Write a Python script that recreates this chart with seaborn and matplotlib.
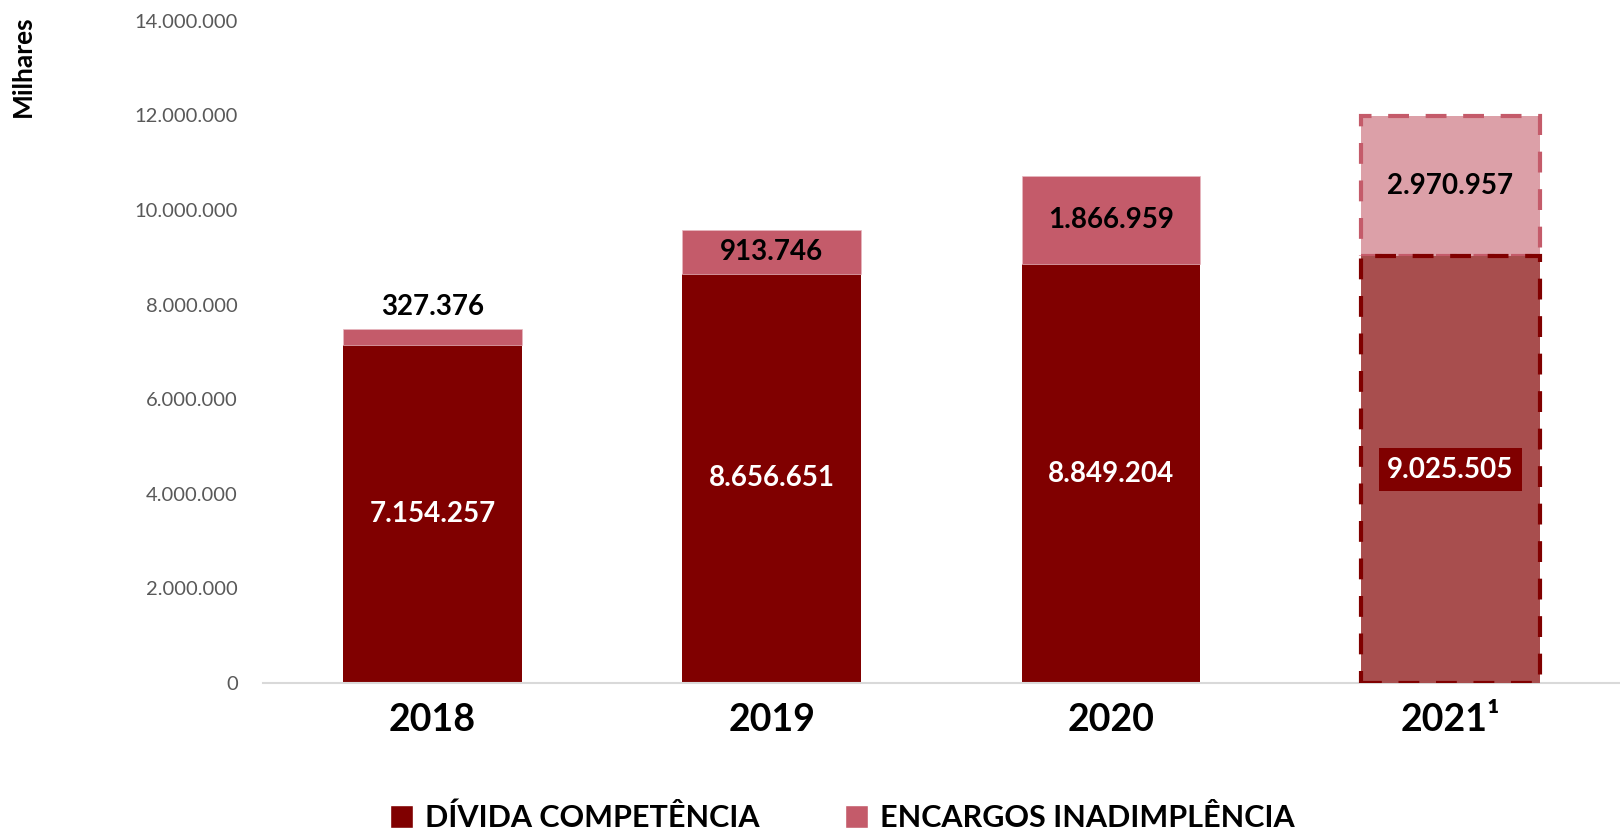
import matplotlib
matplotlib.use("Agg")
import matplotlib.pyplot as plt
import pandas as pd
import seaborn as sns
from matplotlib.patches import Patch

anos = ["2018", "2019", "2020", "2021¹"]
divida = [7154257, 8656651, 8849204, 9025505]
encargos = [327376, 913746, 1866959, 2970957]
yticks = [0, 2000000, 4000000, 6000000, 8000000, 10000000, 12000000, 14000000]


def br(v):
    return f"{v:,.0f}".replace(",", ".")


df = pd.DataFrame({"ano": anos, "divida": divida, "encargos": encargos})

sns.set_theme(style="white")
plt.rcParams['font.family'] = ['Lato', 'DejaVu Sans']
plt.rcParams['text.color'] = 'black'

cor_div = "#800000"
cor_enc = "#C45B6A"

fig = plt.figure(figsize=(16.2, 8.32), dpi=100)
ax = fig.add_axes([0.1623, 0.179, 0.8377, 0.796])

sns.barplot(data=df, x="ano", y="divida", color=cor_div, saturation=1,
            width=0.527, ax=ax, edgecolor="none")
sns.barplot(data=df, x="ano", y="encargos", bottom=df["divida"], color=cor_enc,
            saturation=1, width=0.527, ax=ax, edgecolor="#E8B8C0", linewidth=0.5)

pd_div = ax.patches[:4]
pd_enc = ax.patches[4:8]

# 2021 = estimativa, estilo tracejado
p = pd_div[3]
p.set_facecolor("#A84E4E")
p.set_edgecolor(cor_div)
p.set_linewidth(3)
p.set_linestyle((0, (5, 4)))
p.set_zorder(3)
p = pd_enc[3]
p.set_facecolor("#DCA0A8")
p.set_edgecolor(cor_enc)
p.set_linewidth(3)
p.set_linestyle((0, (5, 4)))
p.set_zorder(2)

ax.set_ylim(0, 14000000)
ax.set_xlim(-0.5, 3.5)
ax.set_yticks(yticks)
ax.set_yticklabels([br(v) for v in yticks], color="#595959", fontsize=14.5)
ax.tick_params(axis="y", length=0, pad=18)
ax.tick_params(axis="x", length=0, pad=14)
ax.set_xticks(range(4))
ax.set_xticklabels(anos, fontsize=27, fontweight="bold", color="black")
ax.set_xlabel("")
ax.set_ylabel("")
for s in ["top", "right", "left"]:
    ax.spines[s].set_visible(False)
ax.spines["bottom"].set_color("#D9D9D9")
ax.spines["bottom"].set_linewidth(1.5)
ax.spines["bottom"].set_zorder(1)

for i in range(4):
    d = divida[i]
    e = encargos[i]
    kw = dict(ha="center", va="center", fontsize=20, fontweight="bold", zorder=5)
    if i == 3:
        ax.text(i, d / 2, br(d), color="white",
                bbox=dict(boxstyle="square,pad=0.3", fc=cor_div, ec="none"), **kw)
    else:
        ax.text(i, d / 2, br(d), color="white", **kw)
    if i == 0:
        ax.annotate(br(e), (i, d + e), xytext=(0, 16), textcoords="offset points",
                    ha="center", va="center", fontsize=20, fontweight="bold", color="black")
    else:
        ax.text(i, d + e / 2, br(e), color="black", **kw)

fig.text(0.014, 0.921, "Milhares", rotation=90, ha="center", va="center",
         fontsize=19, fontweight="bold", color="black")

handles = [Patch(facecolor=cor_div, label="DÍVIDA COMPETÊNCIA"),
           Patch(facecolor=cor_enc, label="ENCARGOS INADIMPLÊNCIA")]
fig.legend(handles=handles, loc="center", bbox_to_anchor=(0.52, 0.017),
           ncol=2, frameon=False, prop=dict(size=22, weight="bold"),
           labelcolor="black", handlelength=0.75, handleheight=0.75,
           handletextpad=0.4, columnspacing=2.8)

fig.savefig("out.png", dpi=100)
